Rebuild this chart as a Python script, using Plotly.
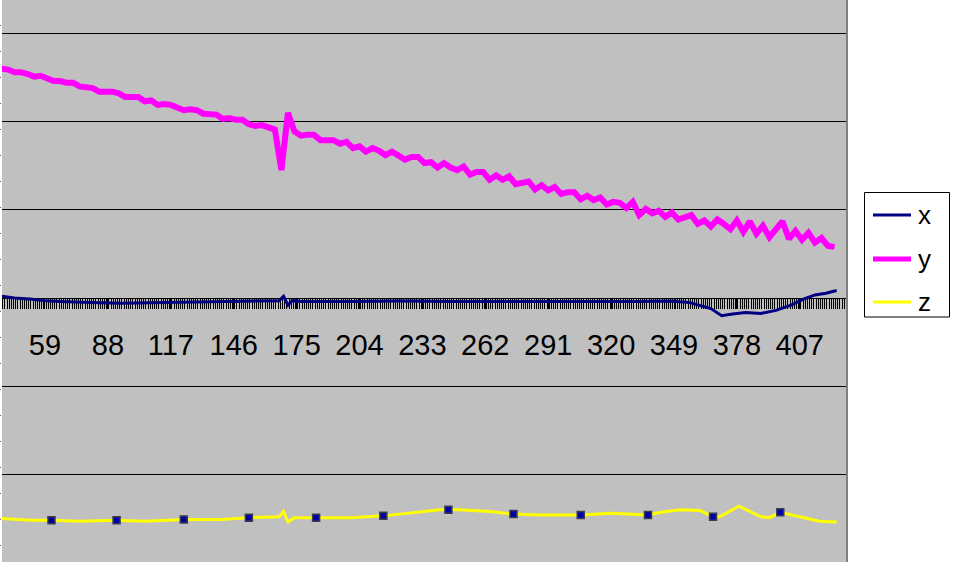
import plotly.graph_objects as go

# ---- data (one gridline = 1 unit, x-axis crossing at 0) ----
cats_y = list(range(39, 424, 3))
y_vals = [2.60, 2.59, 2.56, 2.56, 2.54, 2.51, 2.52, 2.49, 2.46, 2.46,
          2.44, 2.44, 2.40, 2.39, 2.38, 2.34, 2.34, 2.34, 2.32, 2.28,
          2.28, 2.28, 2.23, 2.24, 2.19, 2.20, 2.19, 2.16, 2.13, 2.14,
          2.13, 2.09, 2.08, 2.08, 2.03, 2.04, 2.02, 2.02, 1.97, 1.95,
          1.96, 1.94, 1.91, 1.45, 2.10,
          1.89, 1.84, 1.85, 1.85, 1.79, 1.79, 1.79, 1.75, 1.77, 1.70,
          1.72, 1.66, 1.70, 1.67, 1.62, 1.66, 1.61, 1.57, 1.60, 1.60,
          1.53, 1.54, 1.48, 1.53, 1.48, 1.45, 1.49, 1.40, 1.43, 1.43,
          1.34, 1.39, 1.34, 1.38, 1.29, 1.30, 1.32, 1.23, 1.28, 1.22,
          1.26, 1.18, 1.20, 1.20, 1.12, 1.16, 1.11, 1.14, 1.06, 1.09,
          1.08, 1.02,
          1.09, 0.94, 1.01, 0.96,
          0.99, 0.92, 0.97, 0.89, 0.92, 0.94, 0.84, 0.88, 0.81, 0.89,
          0.84, 0.78, 0.88, 0.75, 0.87, 0.73, 0.82, 0.69, 0.78, 0.87,
          0.67, 0.76, 0.66, 0.74, 0.63, 0.68, 0.59, 0.58]

cats_x = [39, 45, 52, 59, 66, 75, 84, 94, 107, 119, 130, 142, 153, 163, 167, 169,
          171, 173, 177, 200, 223, 246, 269, 292, 315, 333, 347, 356, 366, 371,
          376, 382, 389, 396, 403, 409, 414, 419, 424]
x_vals = [0.02, 0.00, -0.01, -0.03, -0.04, -0.05, -0.055, -0.06, -0.055, -0.055,
          -0.05, -0.045, -0.04, -0.035, -0.03, 0.02, -0.08, -0.03, -0.04, -0.04,
          -0.035, -0.04, -0.04, -0.045, -0.045, -0.04, -0.035, -0.05, -0.12, -0.20,
          -0.18, -0.165, -0.175, -0.14, -0.08, -0.01, 0.035, 0.055, 0.085]

cats_z = [39, 52, 62, 75, 92, 105, 123, 140, 153, 167, 169, 171, 174, 184, 200,
          215, 227, 241, 245, 250, 264, 275, 287, 306, 320, 333, 337, 343, 352,
          361, 367, 370, 379, 389, 393, 398, 407, 416, 424]
z_vals = [-2.50, -2.52, -2.52, -2.53, -2.52, -2.53, -2.51, -2.51, -2.49, -2.48,
          -2.42, -2.54, -2.49, -2.49, -2.49, -2.47, -2.44, -2.40, -2.40, -2.40,
          -2.42, -2.45, -2.46, -2.46, -2.44, -2.45, -2.46, -2.43, -2.40, -2.41,
          -2.48, -2.48, -2.36, -2.48, -2.49, -2.43, -2.48, -2.53, -2.54]

marker_cats = [62, 92, 123, 153, 184, 215, 245, 275, 306, 337, 367, 398]
marker_vals = [-2.52, -2.52, -2.51, -2.49, -2.49, -2.47, -2.40, -2.45, -2.46, -2.46, -2.48, -2.43]

tick_labels = [59, 88, 117, 146, 175, 204, 233, 262, 291, 320, 349, 378, 407]

series_names = ["x", "y", "z"]
series_colors = ["#000080", "#FF00FF", "#FFFF00"]
series_widths = [3, 6, 3]
legend_widths = [3, 5, 3]

FONT = "Liberation Sans, Arial, sans-serif"

fig = go.Figure()
for name, cx, vals, col, w in zip(series_names, [cats_x, cats_y, cats_z],
                                  [x_vals, y_vals, z_vals], series_colors, series_widths):
    fig.add_trace(go.Scatter(x=cx, y=vals, mode="lines", name=name,
                             line=dict(color=col, width=w)))
fig.add_trace(go.Scatter(x=marker_cats, y=marker_vals, mode="markers", showlegend=False,
                         marker=dict(symbol="square", size=7, color="#0000A8",
                                     line=dict(color="#3C3C4C", width=1.5))))
# invisible trace so the left tick-mark axis is drawn
fig.add_trace(go.Scatter(x=[40], y=[1], yaxis="y2", mode="markers",
                         marker=dict(opacity=0), showlegend=False, hoverinfo="skip"))

# ---- hand-placed legend box (Excel style) ----
W_PLOT = 844.0
def px_x(p):
    return (p - 2) / W_PLOT
def px_y(p):
    return 1 - p / 562.0

shapes = [
    dict(type="line", xref="paper", yref="paper", x0=px_x(847), x1=px_x(847),
         y0=0, y1=1, line=dict(color="#808080", width=2)),
    dict(type="rect", xref="paper", yref="paper", x0=px_x(864.5), x1=px_x(949.5),
         y0=px_y(317), y1=px_y(192.5), fillcolor="white",
         line=dict(color="black", width=1)),
]
annotations = []
for k, (name, col, lw) in enumerate(zip(series_names, series_colors, legend_widths)):
    yy = [215, 259, 302][k]
    shapes.append(dict(type="line", xref="paper", yref="paper", x0=px_x(873), x1=px_x(911),
                       y0=px_y(yy), y1=px_y(yy), line=dict(color=col, width=lw)))
    annotations.append(dict(text=name, xref="paper", yref="paper", x=px_x(916), y=px_y(yy),
                            xanchor="left", yanchor="middle", showarrow=False,
                            font=dict(size=26, family=FONT, color="black")))

fig.update_layout(
    width=954, height=562,
    margin=dict(l=2, r=108, t=0, b=0),
    paper_bgcolor="white", plot_bgcolor="#C0C0C0",
    font=dict(family=FONT, color="black"),
    showlegend=False,
    xaxis=dict(range=[39.18, 428.3], anchor="free", position=0.4698,
               showline=True, linecolor="black", linewidth=1,
               showgrid=False, zeroline=False,
               tickmode="array", tickvals=tick_labels,
               ticktext=[str(t) for t in tick_labels],
               ticks="outside", ticklen=10, tickcolor="black", tickwidth=1,
               ticklabelstandoff=11,
               tickfont=dict(size=29, family=FONT, color="black"),
               minor=dict(tickmode="linear", tick0=0.5, dtick=1, ticks="outside",
                          ticklen=10, tickcolor="black", tickwidth=1, showgrid=False),
               layer="below traces"),
    yaxis=dict(range=[-2.993, 3.379], tickmode="linear", tick0=0, dtick=1,
               showgrid=True, gridcolor="black", gridwidth=1,
               zeroline=False, showticklabels=False, ticks="", showline=False),
    yaxis2=dict(overlaying="y", side="left", range=[0, 21.615], tickmode="linear",
                tick0=0.635, dtick=1, ticks="outside", ticklen=2, tickcolor="#606060",
                showticklabels=False, showgrid=False, zeroline=False, showline=False),
    shapes=shapes,
    annotations=annotations,
)

fig.write_html("out.html", config={"displayModeBar": False})

# remove the browser's default page margin so the chart sits at the window's corner
with open("out.html", "r", encoding="utf-8") as f:
    html = f.read()
html = html.replace("<head>", "<head><style>html,body{margin:0;padding:0;overflow:hidden;}</style>", 1)
with open("out.html", "w", encoding="utf-8") as f:
    f.write(html)
